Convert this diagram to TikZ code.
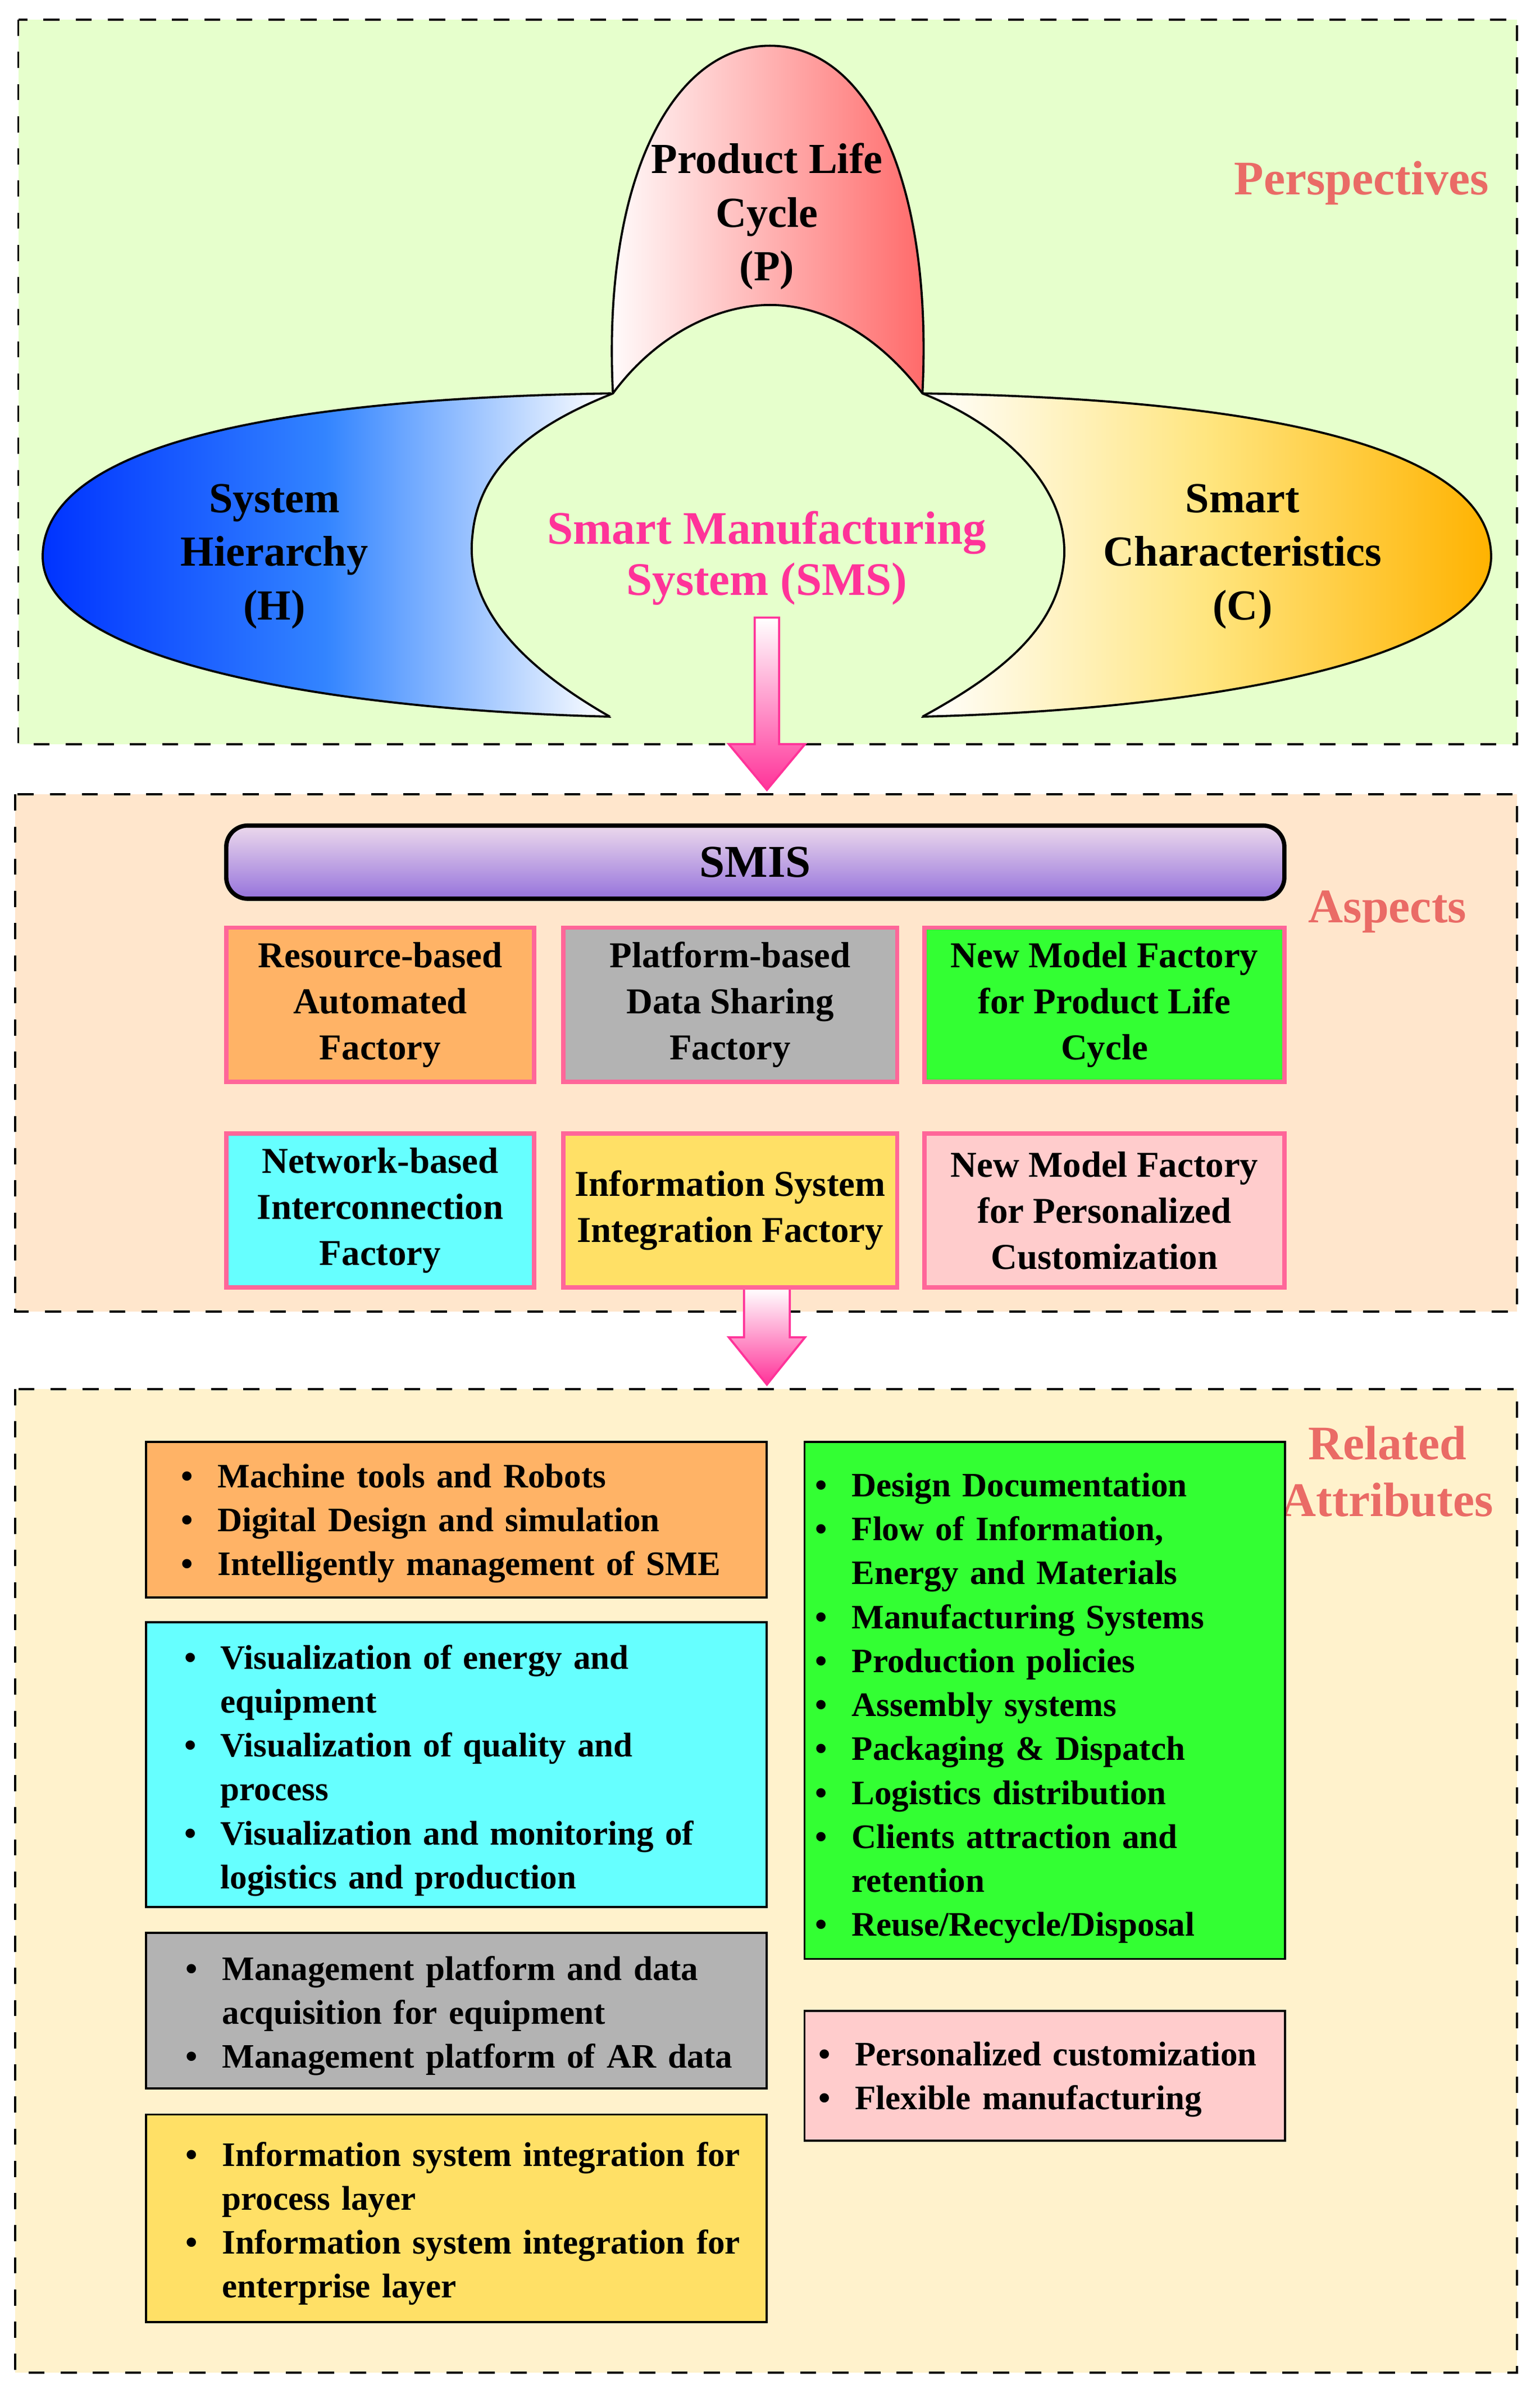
\documentclass[tikz,border=0pt]{standalone}
\usepackage{fontspec}
\setmainfont{Liberation Serif}
\usepackage{enumitem}
\setlist[itemize]{nosep,leftmargin=2.3mm,labelsep=1.6mm,label=\textbullet}
\definecolor{pgreen}{HTML}{E6FFCC}
\definecolor{porange}{HTML}{FFE6CC}
\definecolor{pyellow}{HTML}{FFF2CC}
\definecolor{titlered}{HTML}{EA6B66}
\definecolor{smspink}{HTML}{FF3399}
\definecolor{aorange}{HTML}{FFB366}
\definecolor{agray}{HTML}{B3B3B3}
\definecolor{agreen}{HTML}{33FF33}
\definecolor{acyan}{HTML}{66FFFF}
\definecolor{ayellow}{HTML}{FFE066}
\definecolor{apink}{HTML}{FFCCCC}
\definecolor{aborder}{HTML}{FF6699}

\begin{document}
\begin{tikzpicture}[x=0.1mm,y=-0.1mm,
    panel/.style={draw,dashed,thin},
    title/.style={text=titlered,font=\fontsize{9}{10.5}\selectfont\bfseries,align=center},
    lbl/.style={font=\fontsize{8}{10}\selectfont\bfseries,align=center},
    aspect/.style={draw=aborder,thick,minimum width=#1,minimum height=10.1mm,anchor=north west,
        inner sep=0pt,align=center,font=\fontsize{6.8}{8.6}\selectfont\bfseries},
    attr/.style={draw,thin,anchor=north west},
    attrtext/.style={anchor=north west,inner sep=0pt,align=left,text width=4cm,
        font=\fontsize{6.4}{8.2}\selectfont\bfseries},
    flow/.style={draw=smspink,top color=white,bottom color=smspink}]
\useasboundingbox (0,0) rectangle (1010,1570);

% panels
\draw[panel,fill=pgreen] (12,13) rectangle (995,488);
\draw[panel,fill=porange] (10,521) rectangle (995,860);
\draw[panel,fill=pyellow] (10,911) rectangle (995,1556);

% perspectives
\draw[left color=blue!80!cyan,right color=white,middle color=blue!60!cyan!80]
    (400,258) .. controls (150,262) and (28,300) .. (28,365)
    .. controls (28,430) and (200,465) .. (400,470) -- cycle;
\draw[left color=white,right color=orange!60!yellow,middle color=yellow!60!orange!50]
    (605,258) .. controls (855,262) and (978,300) .. (978,365)
    .. controls (978,430) and (805,465) .. (605,470) -- cycle;
\draw[left color=white,right color=red!60]
    (402,258) .. controls (395,120) and (440,30) .. (505,30)
    .. controls (570,30) and (612,120) .. (605,258) -- cycle;
\fill[pgreen] (400,470) .. controls (330,430) and (305,390) .. (310,350)
    .. controls (315,300) and (360,275) .. (402,258)
    .. controls (430,220) and (470,200) .. (505,200)
    .. controls (545,200) and (580,225) .. (605,258)
    .. controls (660,280) and (700,320) .. (698,365)
    .. controls (695,410) and (660,440) .. (605,470) -- cycle;
\draw (400,470) .. controls (330,430) and (305,390) .. (310,350)
    .. controls (315,300) and (360,275) .. (402,258)
    .. controls (430,220) and (470,200) .. (505,200)
    .. controls (545,200) and (580,225) .. (605,258)
    .. controls (660,280) and (700,320) .. (698,365)
    .. controls (695,410) and (660,440) .. (605,470);

\node[lbl] (plc) at (503,142) {Product Life\\Cycle\\(P)};
\node[lbl] (sh) at (180,365) {System\\Hierarchy\\(H)};
\node[lbl] (sc) at (815,365) {Smart\\Characteristics\\(C)};
\node[lbl,text=smspink,font=\fontsize{8.7}{9.6}\selectfont\bfseries] (sms) at (503,366)
    {Smart Manufacturing\\System (SMS)};
\node[title] (persp) at (893,120) {Perspectives};

% arrows between panels
\draw[flow] (495,405) -- (511,405) -- (511,488) -- (528,488) -- (503,518)
    -- (478,488) -- (495,488) -- cycle;
\draw[flow] (488,845) -- (518,845) -- (518,877) -- (528,877) -- (503,908)
    -- (478,877) -- (488,877) -- cycle;

% aspects
\node[draw,thick,rounded corners=4pt,top color=white!85!violet,bottom color=violet!50!blue!55,
    minimum width=69.4mm,minimum height=4.8mm,anchor=north west,
    font=\fontsize{8.5}{10}\selectfont\bfseries] (smis) at (147,540) {SMIS};
\node[title] (asp) at (910,598) {Aspects};
\node[aspect=20.2mm,fill=aorange] (rb) at (147,607) {Resource-based\\Automated\\Factory};
\node[aspect=21.9mm,fill=agray] (pb) at (368,607) {Platform-based\\Data Sharing\\Factory};
\node[aspect=23.6mm,fill=agreen] (nmp) at (605,607) {New Model Factory\\for Product Life\\Cycle};
\node[aspect=20.2mm,fill=acyan] (nb) at (147,742) {Network-based\\Interconnection\\Factory};
\node[aspect=21.9mm,fill=ayellow] (isi) at (368,742) {Information System\\Integration Factory};
\node[aspect=23.6mm,fill=apink] (nmc) at (605,742) {New Model Factory\\for Personalized\\Customization};

% related attributes
\node[title] (rel) at (910,965) {Related\\Attributes};
\node[attr,fill=aorange,minimum width=40.7mm,minimum height=10.2mm] (b1) at (95,945) {};
\node[attr,fill=acyan,minimum width=40.7mm,minimum height=18.7mm] (b2) at (95,1063) {};
\node[attr,fill=agray,minimum width=40.7mm,minimum height=10.2mm] (b3) at (95,1267) {};
\node[attr,fill=ayellow,minimum width=40.7mm,minimum height=13.6mm] (b4) at (95,1386) {};
\node[attr,fill=agreen,minimum width=31.5mm,minimum height=33.9mm] (b5) at (527,945) {};
\node[attr,fill=apink,minimum width=31.5mm,minimum height=8.5mm] (b6) at (527,1318) {};

\node[attrtext] (t1) at (119,946) {\begin{itemize}
    \item Machine tools and Robots
    \item Digital Design and simulation
    \item Intelligently management of SME
\end{itemize}};
\node[attrtext] (t2) at (121,1065) {\begin{itemize}
    \item Visualization of energy and\newline equipment
    \item Visualization of quality and\newline process
    \item Visualization and monitoring of\newline logistics and production
\end{itemize}};
\node[attrtext] (t3) at (122,1269) {\begin{itemize}
    \item Management platform and data\newline acquisition for equipment
    \item Management platform of AR data
\end{itemize}};
\node[attrtext] (t4) at (122,1391) {\begin{itemize}
    \item Information system integration for\newline process layer
    \item Information system integration for\newline enterprise layer
\end{itemize}};
\node[attrtext] (t5) at (535,952) {\begin{itemize}
    \item Design Documentation
    \item Flow of Information,\newline Energy and Materials
    \item Manufacturing Systems
    \item Production policies
    \item Assembly systems
    \item Packaging \& Dispatch
    \item Logistics distribution
    \item Clients attraction and\newline retention
    \item Reuse/Recycle/Disposal
\end{itemize}};
\node[attrtext] (t6) at (537,1325) {\begin{itemize}
    \item Personalized customization
    \item Flexible manufacturing
\end{itemize}};
\end{tikzpicture}
\end{document}
